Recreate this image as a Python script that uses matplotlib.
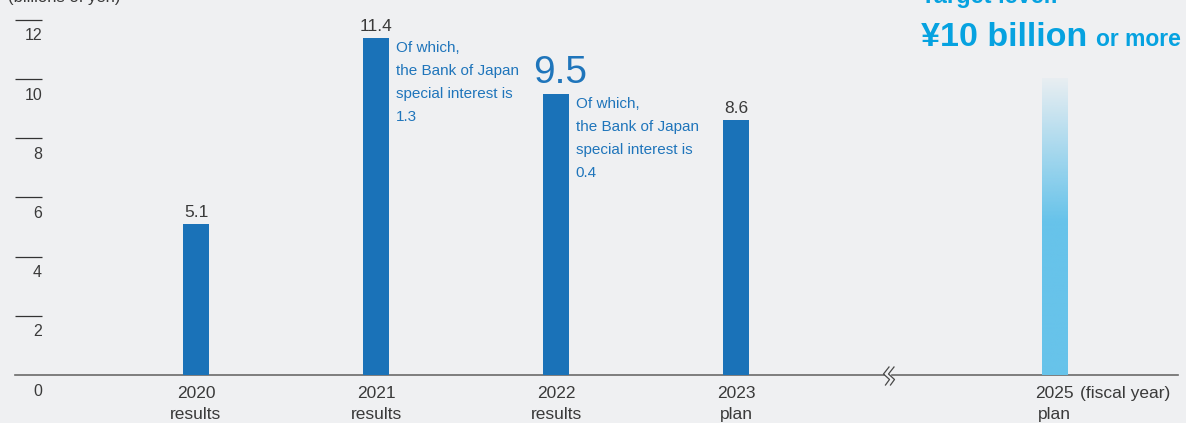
"""
Ordinary profit by fiscal year, with the 2025 target level.
Output: out.png
"""

import matplotlib
matplotlib.use("Agg")
import matplotlib.pyplot as plt
import numpy as np
from matplotlib.colors import to_rgb
from matplotlib.transforms import offset_copy

years = ["2020", "2021", "2022", "2023", "2025"]
stages = ["results", "results", "results", "plan", "plan"]
values = [5.1, 11.4, 9.5, 8.6, 10.0]
boj_interest = [None, 1.3, 0.4, None, None]
yticks = [0, 2, 4, 6, 8, 10, 12]

BG = "#eff0f2"
BAR = "#1a72b8"
TARGET = "#67c3ea"
NOTE = "#1f75bb"
CYAN = "#06a2e0"
DARK = "#3a3a3a"

plt.rcParams["font.family"] = ["Liberation Sans", "DejaVu Sans"]

W, H = 1186, 423
# category slots; the gap before 2025 stands for the skipped year
xpos = [0, 1, 2, 3, 4.77]
bar_w = 0.139
slot_px = 180.0
unit_px = 29.6
x0_px, y0_px = 196, 375

fig = plt.figure(figsize=(W / 100, H / 100), dpi=100, facecolor=BG)
ax = fig.add_axes([0, 0, 1, 1], facecolor=BG)
ax.axis("off")

# actual / planned bars
ax.bar(xpos[:4], values[:4], width=bar_w, color=BAR, zorder=2)

# target bar fades out towards the top
n = 300
v = np.linspace(0, values[4], n)
alpha = 0.05 + 0.95 * np.clip((values[4] - v) / 4.8, 0, 1)
rgba = np.zeros((n, 1, 4))
rgba[..., :3] = to_rgb(TARGET)
rgba[:, 0, 3] = alpha
ax.imshow(rgba, origin="lower", aspect="auto", zorder=2,
          extent=[xpos[4] - bar_w / 2, xpos[4] + bar_w / 2, 0, values[4]])
ax.set_xlim(-x0_px / slot_px, (W - x0_px) / slot_px)
ax.set_ylim(-(H - y0_px) / unit_px, y0_px / unit_px)


def px_x(p):
    return (p - x0_px) / slot_px


# baseline, broken where the years skip
ax.plot([px_x(15), px_x(884)], [0, 0], color="#6a6a6a", lw=1.2, zorder=1)
ax.plot([px_x(892), px_x(1178)], [0, 0], color="#6a6a6a", lw=1.2, zorder=1)
zig_x = np.array([889.0, 883.5, 889.5, 885.5])
zig_y = (y0_px - np.array([367.0, 374.0, 379.5, 385.0])) / unit_px
for dx in (0, 5):
    ax.plot(px_x(zig_x + dx), zig_y, color="#484848", lw=0.9, zorder=3)

# y ticks: short rules with the number underneath
ytrans = ax.get_yaxis_transform()
ax.hlines(yticks[1:], 15 / W, 42 / W, transform=ytrans, color="#333333", lw=0.9)
tick_tr = offset_copy(ytrans, fig=fig, y=-16, units="dots")
for t in yticks:
    ax.text(42 / W, t, str(t), transform=tick_tr, ha="right", va="center",
            fontsize=11.5, color=DARK)

fig.text(8 / W, 1 - 2 / H, "(billions of yen)", ha="left", va="baseline",
         fontsize=12, color=DARK)

# value labels
for i in (0, 1, 3):
    ax.annotate(f"{values[i]:.1f}", (xpos[i], values[i]), xytext=(0, 7),
                textcoords="offset pixels", ha="center", va="baseline",
                fontsize=12.5, color=DARK)
ax.annotate(f"{values[2]:.1f}", (xpos[2], values[2]), xytext=(4, 11),
            textcoords="offset pixels", ha="center", va="baseline",
            fontsize=28, color=NOTE)

# Bank of Japan special interest notes
for i, extra in enumerate(boj_interest):
    if extra is None:
        continue
    ax.annotate(f"Of which,\nthe Bank of Japan\nspecial interest is\n{extra}",
                (xpos[i] + bar_w / 2, values[i]), xytext=(7, -3),
                textcoords="offset pixels", ha="left", va="top",
                fontsize=11, color=NOTE, linespacing=1.83)

# category labels
for x, yr, st in zip(xpos, years, stages):
    ax.annotate(f"{yr}\n{st}", (x, 0), xytext=(0, -11), textcoords="offset pixels",
                ha="center", va="top", fontsize=12.5, color=DARK, linespacing=1.52)
ax.annotate("(fiscal year)", (xpos[4], 0), xytext=(25, -11),
            textcoords="offset pixels", ha="left", va="top",
            fontsize=12.5, color=DARK)

# target level heading
fig.text(921 / W, 1 - 3 / H, "Target level:", ha="left", va="baseline",
         fontsize=17, fontweight="bold", color=CYAN)
fig.text(921 / W, 1 - 46 / H, "¥10 billion", ha="left", va="baseline",
         fontsize=24.5, fontweight="bold", color=CYAN)
fig.text(1096 / W, 1 - 46 / H, "or more", ha="left", va="baseline",
         fontsize=16.5, fontweight="bold", color=CYAN)

fig.savefig("out.png", dpi=100, facecolor=BG)
